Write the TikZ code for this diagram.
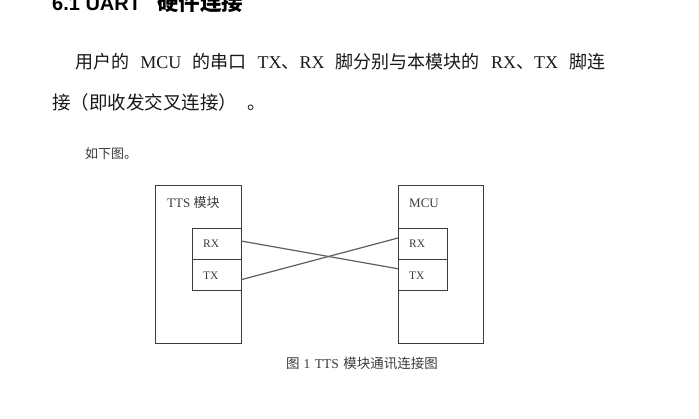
\documentclass[tikz,border=0pt]{standalone}
\usepackage{fontspec}
\setmainfont{Liberation Serif}
\newfontfamily\cjk{Noto Sans CJK SC}
\newfontfamily\hdsans{Liberation Sans}
\usetikzlibrary{calc,positioning}
\definecolor{inkBlack}{RGB}{25,25,25}
\definecolor{boxGray}{RGB}{60,60,60}
\definecolor{wireGray}{RGB}{95,95,95}

\begin{document}
\begin{tikzpicture}[x=1pt,y=-1pt,
  blk/.style={rectangle,draw=boxGray,line width=0.9pt,inner sep=0pt,outer sep=0pt,
              anchor=north west,minimum width=85.5pt,minimum height=157.5pt},
  pin/.style={rectangle,draw=boxGray,line width=0.9pt,inner sep=0pt,outer sep=0pt,
              anchor=north west,minimum width=49pt,minimum height=31pt},
  lbl/.style={anchor=base west,inner sep=0pt,text=boxGray,font=\fontsize{13}{15}\selectfont},
  pinlbl/.style={anchor=base west,inner sep=0pt,text=boxGray,font=\fontsize{11.5}{13}\selectfont},
  para/.style={anchor=base west,inner sep=0pt,text=inkBlack,font=\fontsize{18}{20}\selectfont},
  small/.style={anchor=base west,inner sep=0pt,text=boxGray,font=\fontsize{13}{15}\selectfont},
  wire/.style={draw=wireGray,line width=1.2pt}
]
  \useasboundingbox[fill=white] (0,0) rectangle (699,418);
  % heading and text above the figure
  \node[anchor=base west,inner sep=0pt,text=black,font=\fontsize{20}{22}\selectfont\bfseries]
    (head) at (52,10.5) {\hdsans 6.1 UART\hspace{16pt}{\cjk\bfseries\fontsize{21.5}{22}\selectfont 硬件连接}};
  \node[para](line1) at (75,68) {\makebox[530pt][s]{{\cjk 用户的} MCU {\cjk 的串口} TX{\cjk 、}RX {\cjk 脚分别与本模块的} RX{\cjk 、}TX {\cjk 脚连}}};
  \node[para](line2) at (52,109) {{\cjk\fontsize{18.5}{20}\selectfont 接（即收发交叉连接）\hspace{10pt}。}};
  \node[small](intro) at (85,158) {\cjk 如下图。};
  % the two modules
  \node[blk](tts) at (155.5,185.5) {};
  \node[blk](mcu) at (398,185.5) {};
  \node[lbl](ttsname) at (167,207) {TTS {\cjk 模块}};
  \node[lbl](mcuname) at (409,207) {MCU};
  \node[pin](ttsrx) at (192,228) {};
  \node[pin](ttstx) at (192,259) {};
  \node[pin](mcurx) at (398,228) {};
  \node[pin](mcutx) at (398,259) {};
  \node[pinlbl] at (203,247.5) {RX};
  \node[pinlbl] at (203,279.5) {TX};
  \node[pinlbl] at (409,247.5) {RX};
  \node[pinlbl] at (409,279.5) {TX};
  % crossed serial lines
  \draw[wire]([yshift=2.5pt]ttsrx.east)--([yshift=5.75pt]mcutx.west);
  \draw[wire]([yshift=-5.25pt]ttstx.east)--([yshift=5.5pt]mcurx.west);
  \node[small,font=\fontsize{13.5}{15}\selectfont](cap) at (286,368.5)
    {{\cjk 图}\hspace{4pt}1\hspace{4.5pt}TTS\hspace{4.5pt}{\cjk 模块通讯连接图}};
\end{tikzpicture}
\end{document}
